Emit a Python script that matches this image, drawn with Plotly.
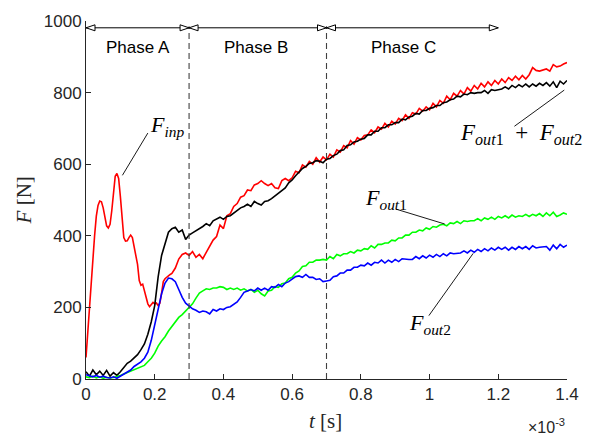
import plotly.graph_objects as go

# time grid in ms (x axis is in seconds, shown with x10^-3)
t_ms = [round(i * 0.01, 2) for i in range(141)]

# F_inp sampled more finely during the impact (0-0.25 ms), then on the common grid
t_inp_ms = [round(i * 0.005, 3) for i in range(50)] + [round(0.25 + i * 0.01, 2) for i in range(116)]
f_inp = [60, 130, 210, 285, 330, 400, 455, 485, 497, 495,
         478, 450, 428, 422, 432, 470, 530, 566, 574, 560,
         510, 440, 395, 385, 386, 395, 402, 395, 370, 345,
         320, 275, 262, 265, 245, 232, 210, 202, 208, 214,
         210, 212, 205, 212, 240, 272, 280, 285, 288, 292,
         295, 310, 335, 348, 352,
         345, 356, 340, 348, 336, 354, 370, 388, 398, 430,
         420, 456, 462, 482, 490, 508, 512, 528, 526, 542,
         546, 554, 546, 540, 546, 534, 532, 554, 560, 554,
         562, 580, 576, 598, 592, 608, 600, 618, 606, 620,
         612, 628, 620, 640, 634, 652, 646, 666, 656, 674,
         668, 680, 682, 696, 688, 704, 698, 714, 704, 720,
         712, 728, 722, 738, 728, 744, 740, 756, 748, 760,
         752, 770, 760, 778, 770, 790, 780, 798, 790, 806,
         796, 814, 804, 820, 810, 826, 816, 830, 820, 834,
         824, 838, 828, 842, 834, 846, 836, 848, 838, 850,
         870, 862, 860, 864, 866, 860, 878, 872, 874, 880,
         884]

f_sum = [20, 8, 25, 12, 22, 10, 24, 8, 18, 10,
         20, 32, 44, 50, 58, 68, 82, 98, 125, 160,
         205, 285, 345, 380, 410, 420, 424, 410, 416, 390,
         402, 408, 414, 418, 426, 434, 428, 442, 446, 452,
         446, 454, 456, 464, 470, 478, 482, 488, 482, 496,
         490, 486, 496, 498, 504, 512, 518, 528, 534, 548,
         556, 568, 578, 588, 594, 602, 604, 610, 608, 604,
         614, 616, 624, 628, 638, 640, 652, 654, 662, 664,
         670, 672, 682, 682, 692, 692, 702, 702, 710, 710,
         716, 716, 726, 724, 732, 734, 742, 740, 750, 750,
         756, 758, 764, 764, 772, 774, 780, 782, 790, 788,
         796, 794, 800, 798, 800, 800, 806, 798, 808, 806,
         808, 810, 816, 810, 820, 814, 822, 816, 824, 816,
         824, 818, 826, 820, 828, 818, 830, 814, 832, 824,
         834]

f_out1 = [6, 4, 8, 3, 6, 2, 5, 3, 4, 6,
          10, 14, 18, 22, 24, 28, 32, 38, 48, 58,
          72, 92, 106, 118, 134, 146, 158, 172, 180, 190,
          198, 210, 226, 240, 246, 252, 250, 254, 254, 258,
          256, 250, 254, 250, 254, 248, 252, 246, 250, 242,
          248, 238, 232, 246, 248, 258, 256, 266, 268, 280,
          284, 296, 302, 314, 316, 326, 326, 332, 332, 334,
          332, 342, 336, 348, 344, 350, 350, 356, 352, 360,
          358, 364, 362, 372, 366, 376, 376, 380, 380, 388,
          386, 394, 394, 402, 402, 410, 410, 416, 414, 422,
          418, 426, 424, 430, 432, 428, 436, 434, 440, 434,
          442, 440, 442, 442, 448, 442, 450, 446, 452, 446,
          454, 450, 456, 450, 458, 452, 456, 454, 460, 454,
          460, 456, 462, 454, 464, 456, 466, 454, 458, 464,
          460]

f_out2 = [12, 8, 6, 10, 5, 8, 4, 3, 6, 2,
          8, 12, 18, 25, 35, 42, 48, 58, 75, 108,
          150, 200, 238, 268, 282, 280, 272, 250, 228, 212,
          205, 196, 192, 186, 190, 188, 182, 194, 190, 196,
          194, 200, 202, 208, 215, 228, 242, 246, 250, 246,
          254, 248, 254, 248, 258, 256, 264, 258, 268, 272,
          280, 286, 288, 284, 292, 284, 284, 278, 280, 272,
          274, 276, 286, 288, 296, 296, 304, 304, 312, 312,
          318, 316, 324, 318, 326, 324, 332, 324, 332, 326,
          334, 328, 336, 334, 334, 334, 342, 336, 344, 338,
          346, 340, 348, 342, 350, 344, 352, 350, 352, 352,
          358, 352, 360, 354, 362, 356, 364, 358, 366, 360,
          368, 362, 368, 360, 368, 362, 370, 364, 370, 362,
          372, 366, 368, 368, 370, 360, 374, 364, 376, 368,
          374]

x_tick_vals_ms = [0, 0.2, 0.4, 0.6, 0.8, 1.0, 1.2, 1.4]
x_tick_text = ["0", "0.2", "0.4", "0.6", "0.8", "1", "1.2", "1.4"]
y_tick_vals = [0, 200, 400, 600, 800, 1000]

phase_labels = ["Phase A", "Phase B", "Phase C"]
phase_bounds_ms = [(0.0, 0.3), (0.3, 0.7), (0.7, 1.2)]
phase_divs_ms = [0.3, 0.7]

S = 1e-3
t = [v * S for v in t_ms]
t_inp = [v * S for v in t_inp_ms]

fig = go.Figure()
series = [(t_inp, f_inp, "#ff0000"), (t, f_sum, "#000000"), (t, f_out1, "#00ff00"), (t, f_out2, "#0000ff")]
for xs, ys, c in series:
    fig.add_trace(go.Scatter(x=xs, y=ys, mode="lines", line=dict(color=c, width=1.6),
                             showlegend=False, hoverinfo="skip"))

shapes = []
# dashed phase dividers
for d in phase_divs_ms:
    shapes.append(dict(type="line", xref="x", yref="y", x0=d * S, x1=d * S, y0=0, y1=985,
                       line=dict(color="#404040", width=1.1, dash="6px,4px")))
# phase arrows
ARROW_Y = 981
for (a, b) in phase_bounds_ms:
    shapes.append(dict(type="line", xref="x", yref="y", x0=a * S, x1=b * S, y0=ARROW_Y, y1=ARROW_Y,
                       line=dict(color="#000000", width=1)))
    shapes.append(dict(type="path", xref="x", yref="y", xsizemode="pixel", ysizemode="pixel",
                       xanchor=a * S, yanchor=ARROW_Y, path="M0,0 L9,3 L9,-3 Z",
                       line=dict(color="#000000", width=1), fillcolor="white"))
    shapes.append(dict(type="path", xref="x", yref="y", xsizemode="pixel", ysizemode="pixel",
                       xanchor=b * S, yanchor=ARROW_Y, path="M0,0 L-9,3 L-9,-3 Z",
                       line=dict(color="#000000", width=1), fillcolor="white"))

# label leader lines
leaders = [((0.180, 687), (0.106, 569)),
           ((0.904, 474), (1.044, 433)),
           ((0.998, 177), (1.127, 351)),
           ((1.247, 706), (1.392, 807))]
for (x0, y0), (x1, y1) in leaders:
    shapes.append(dict(type="line", xref="x", yref="y", x0=x0 * S, y0=y0, x1=x1 * S, y1=y1,
                       line=dict(color="#000000", width=0.9)))

annotations = []
phase_text_x = [0.152, 0.494, 0.924]
for lab, px in zip(phase_labels, phase_text_x):
    annotations.append(dict(x=px * S, y=926, xref="x", yref="y", text=lab, showarrow=False,
                            font=dict(family="Liberation Sans, Arial", size=17, color="#000000")))

MF = "Liberation Serif, Times New Roman, serif"
math_labels = [
    (0.180, 706, "left", 22, "<i>F</i><sub><i>inp</i></sub>"),
    (0.805, 504, "left", 22, "<i>F</i><sub><i>out</i>1</sub>"),
    (1.000, 155, "center", 22, "<i>F</i><sub><i>out</i>2</sub>"),
    (1.084, 684, "left", 23, "<i>F</i><sub><i>out</i>1</sub>&nbsp;&nbsp;+&nbsp;&nbsp;<i>F</i><sub><i>out</i>2</sub>"),
]
for x, y, anc, fs, txt in math_labels:
    annotations.append(dict(x=x * S, y=y, xref="x", yref="y", text=txt, showarrow=False,
                            xanchor=anc, yanchor="middle",
                            font=dict(family=MF, size=fs, color="#000000")))

annotations.append(dict(x=-0.128, y=0.50, xref="paper", yref="paper", text="<i>F</i> [N]",
                        textangle=-90, showarrow=False, xanchor="center", yanchor="middle",
                        font=dict(family=MF, size=21, color="#262626")))
annotations.append(dict(x=0.497, y=-0.117, xref="paper", yref="paper", text="<i>t</i> [s]",
                        showarrow=False, xanchor="center", yanchor="middle",
                        font=dict(family=MF, size=21, color="#262626")))
annotations.append(dict(x=1.0, y=-0.132, xref="paper", yref="paper", text="×10<sup>-3</sup>",
                        showarrow=False, xanchor="right", yanchor="middle",
                        font=dict(family="Liberation Sans, Arial", size=16, color="#262626")))

axis_common = dict(showgrid=False, zeroline=False, showline=True, linecolor="#262626", linewidth=1,
                   ticks="inside", ticklen=5, tickcolor="#262626", tickwidth=1,
                   tickfont=dict(family="Liberation Sans, Arial", size=17, color="#262626"))

fig.update_layout(
    width=591, height=444,
    margin=dict(l=86, r=14, t=12, b=65),
    paper_bgcolor="white", plot_bgcolor="white",
    xaxis=dict(range=[0, 1.4e-3], tickvals=[v * S for v in x_tick_vals_ms], ticktext=x_tick_text,
               **axis_common),
    yaxis=dict(range=[0, 1000], tickvals=y_tick_vals, **axis_common),
    shapes=shapes, annotations=annotations,
)

fig.write_html("out.html")
